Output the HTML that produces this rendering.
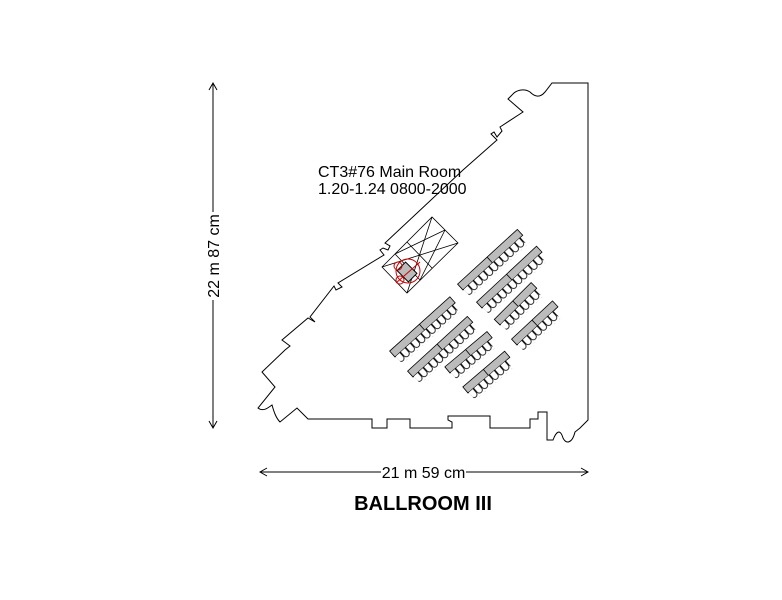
<!DOCTYPE html>
<html><head><meta charset="utf-8"><style>
html,body{margin:0;padding:0;background:#fff;}
svg{display:block;}
text{font-family:"Liberation Sans",Arial,sans-serif;}
</style></head><body>
<svg width="782" height="600" viewBox="0 0 782 600" xmlns="http://www.w3.org/2000/svg">
<defs>
<pattern id="ch" patternUnits="userSpaceOnUse" width="7" height="10" x="0" y="0">
<path d="M0.4,0 V5 A3.1,3.1 0 0 0 6.6,5 V0" fill="#fff" stroke="#000" stroke-width="0.8"/>
</pattern>
</defs>
<g fill="none" stroke="#000" stroke-width="1">
<path d="M588,83 L552,83 L545,92 C540,98 535,97 530,92 C524,88 516,90 512,95 L508,99 L523,112 L500,127 L502,131 L497,137 L494,132 L491,134 L497,140 L463,170 L385,243 L390,246 L388,250 L383,248 L380,250 L384,255 L338,283 L342,287 L336,290 L334,286 L310,317 L315,322 L308,318 L282,340 L290,346 L285,350 L262,372 L275,387 L258,408 C263,412 268,408 272,405 C274,412 276,418 280,422 L297,408 L308,419 L372,419 L372,428 L387,428 L387,419 L410,419 L410,428 L452,428 L452,422 L448,420 L448,416 L490,416 L490,428 L530,428 L530,419 L538,419 L538,412 L547,412 L547,440 L553,440 C556,432 560,428 563,438 C566,444 572,444 575,432 L580,428 L588,420 Z"/>
<line x1="213" y1="83" x2="213" y2="212"/><line x1="213" y1="300" x2="213" y2="428"/>
<path d="M209,90 L213,83 L217,90 M209,421 L213,428 L217,421"/>
<line x1="260" y1="472" x2="381" y2="472"/><line x1="466" y1="472" x2="588" y2="472"/>
<path d="M267,468 L260,472 L267,476 M581,468 L588,472 L581,476"/>
<path d="M382,267 L432,217 L458,243 L407,293 Z M382,267 L458,243 M432,217 L407,293 M395,254 L445,230 M420,280 L445,230 M395,254 L420,280 M407,242 L432,268" stroke-width="0.8"/>
</g>
<g transform="translate(407,272) rotate(-45)">
<rect x="-6" y="-8" width="12" height="16" fill="#bbb" stroke="#000" stroke-width="1"/>
</g>
<g fill="none" stroke="#c00" stroke-width="1">
<circle cx="408" cy="271" r="12"/><circle cx="398" cy="266" r="4"/><circle cx="400" cy="280" r="4"/><line x1="396" y1="283" x2="420" y2="262"/>
</g>
<g stroke="#000" stroke-width="0.8">
<g transform="translate(463,290) rotate(-42.5)"><rect x="0" y="-8" width="81" height="8" fill="#bbb"/><line x1="40" y1="-8" x2="40" y2="0"/><rect x="1" y="0" width="77" height="10" fill="url(#ch)" stroke="none"/></g>
<g transform="translate(482,308) rotate(-43)"><rect x="0" y="-8" width="82" height="8" fill="#bbb"/><line x1="41" y1="-8" x2="41" y2="0"/><rect x="1" y="0" width="77" height="10" fill="url(#ch)" stroke="none"/></g>
<g transform="translate(500,325) rotate(-45)"><rect x="0" y="-8" width="52" height="8" fill="#bbb"/><line x1="26" y1="-8" x2="26" y2="0"/><rect x="1" y="0" width="49" height="10" fill="url(#ch)" stroke="none"/></g>
<g transform="translate(517,345) rotate(-43)"><rect x="0" y="-8" width="56" height="8" fill="#bbb"/><line x1="28" y1="-8" x2="28" y2="0"/><rect x="1" y="0" width="49" height="10" fill="url(#ch)" stroke="none"/></g>
<g transform="translate(395,357) rotate(-42)"><rect x="0" y="-8" width="81" height="8" fill="#bbb"/><line x1="40" y1="-8" x2="40" y2="0"/><rect x="1" y="0" width="77" height="10" fill="url(#ch)" stroke="none"/></g>
<g transform="translate(413,377) rotate(-42.5)"><rect x="0" y="-8" width="81" height="8" fill="#bbb"/><line x1="40" y1="-8" x2="40" y2="0"/><rect x="1" y="0" width="77" height="10" fill="url(#ch)" stroke="none"/></g>
<g transform="translate(450,373) rotate(-40)"><rect x="0" y="-8" width="55" height="8" fill="#bbb"/><line x1="27" y1="-8" x2="27" y2="0"/><rect x="1" y="0" width="49" height="10" fill="url(#ch)" stroke="none"/></g>
<g transform="translate(468,393) rotate(-40.5)"><rect x="0" y="-8" width="55" height="8" fill="#bbb"/><line x1="27" y1="-8" x2="27" y2="0"/><rect x="1" y="0" width="49" height="10" fill="url(#ch)" stroke="none"/></g>
</g>
<text x="318" y="177" font-size="16" fill="#000">CT3#76 Main Room</text>
<text x="318" y="194" font-size="16" fill="#000">1.20-1.24 0800-2000</text>
<text x="423.5" y="478" font-size="16" text-anchor="middle" fill="#000">21 m 59 cm</text>
<text transform="translate(219,256) rotate(-90)" font-size="16" text-anchor="middle" fill="#000">22 m 87 cm</text>
<text x="423" y="510" font-size="20" font-weight="bold" text-anchor="middle" fill="#000">BALLROOM III</text>
</svg>
</body></html>
